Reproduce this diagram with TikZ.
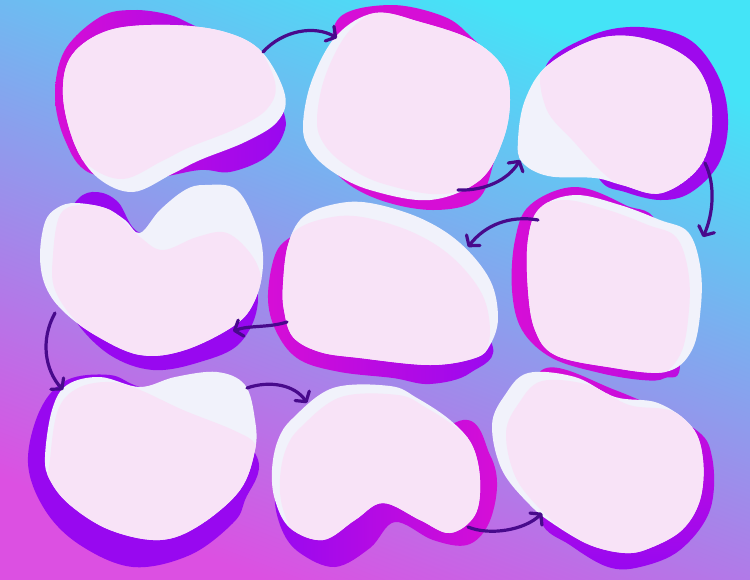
\documentclass[tikz,border=0pt]{standalone}
\usetikzlibrary{arrows.meta}
\definecolor{bgcyan}{RGB}{68,228,247}
\definecolor{bgmid}{RGB}{140,165,232}
\definecolor{bgmag}{RGB}{220,80,226}
\definecolor{shmag}{RGB}{214,14,214}
\definecolor{shvio}{RGB}{152,8,240}
\definecolor{blobwhite}{RGB}{241,242,251}
\definecolor{blobpink}{RGB}{248,227,247}
\definecolor{arrowc}{RGB}{72,10,140}
\tikzset{
  mainblob/.style={fill=blobwhite},
  pinkblob/.style={fill=blobpink},
  conn/.style={draw=arrowc, line width=3.2pt, line cap=round,
    -{Straight Barb[length=7pt,width=17pt,round]}},
  bl/.style={smooth cycle, tension=0.6}
}
\begin{document}
\begin{tikzpicture}[x=1pt,y=-1pt]
\useasboundingbox (0,0) rectangle (750,579);
\shade[top color=bgcyan, middle color=bgmid, bottom color=bgmag, shading angle=-21] (0,0) rectangle (750,579);

% ---------- Blob 1 ----------
\shade[left color=shmag, right color=shvio] plot[bl] coordinates {(55,95) (65,50) (100,17) (133,10) (170,15) (200,28) (255,48) (283,110) (283,135) (265,158) (230,172) (200,170) (150,178) (90,173) (65,140)};
\path[mainblob] plot[bl] coordinates {(63,95) (72,55) (110,30) (170,25) (225,32) (262,52) (285,95) (277,122) (245,142) (200,160) (172,174) (133,192) (98,178) (75,145)};
\begin{scope}
\clip plot[bl] coordinates {(63,95) (72,55) (110,30) (170,25) (225,32) (262,52) (285,95) (277,122) (245,142) (200,160) (172,174) (133,192) (98,178) (75,145)};
\path[pinkblob, shift={(-10,-13)}] plot[bl] coordinates {(63,95) (72,55) (110,30) (170,25) (225,32) (262,52) (285,95) (277,122) (245,142) (200,160) (172,174) (133,192) (98,178) (75,145)};
\end{scope}

% ---------- Blob 2 ----------
\fill[shmag] plot[bl] coordinates {(330,60) (340,17) (390,5) (440,15) (467,33) (495,70) (495,140) (493,165) (477,200) (433,210) (380,200) (340,177) (320,140)};
\path[mainblob] plot[bl] coordinates {(303,125) (312,80) (337,35) (375,13) (420,22) (472,40) (503,67) (510,100) (503,140) (480,180) (430,200) (370,190) (333,172) (310,150)};
\begin{scope}
\clip plot[bl] coordinates {(303,125) (312,80) (337,35) (375,13) (420,22) (472,40) (503,67) (510,100) (503,140) (480,180) (430,200) (370,190) (333,172) (310,150)};
\path[pinkblob, shift={(14,-6)}] plot[bl] coordinates {(303,125) (312,80) (337,35) (375,13) (420,22) (472,40) (503,67) (505,100) (498,140) (480,180) (430,200) (370,190) (333,172) (310,150)};
\end{scope}

% ---------- Blob 3 ----------
\fill[shvio!90!shmag] plot[bl] coordinates {(545,70) (590,36) (640,27) (690,40) (720,80) (728,125) (718,165) (690,193) (660,200) (625,192) (600,180) (580,130)};
\path[mainblob] plot[bl] coordinates {(518,140) (525,100) (548,65) (600,38) (650,40) (695,65) (712,110) (702,163) (662,193) (622,185) (595,178) (548,176) (522,162)};
\begin{scope}
\clip plot[bl] coordinates {(518,140) (525,100) (548,65) (600,38) (650,40) (695,65) (712,110) (702,163) (662,193) (622,185) (595,178) (548,176) (522,162)};
\path[pinkblob] plot[bl] coordinates {(545,62) (600,36) (650,38) (695,62) (712,110) (702,163) (662,193) (622,185) (602,172) (575,143) (546,108)};
\end{scope}

% ---------- Blob 4 ----------
\shade[left color=shvio, middle color=shmag, right color=shvio] plot[bl] coordinates {(62,230) (78,199) (97,192) (118,202) (140,233) (190,230) (245,240) (258,300) (240,343) (200,362) (153,370) (110,355) (75,320) (60,280)};
\path[mainblob] plot[bl] coordinates {(40,255) (45,222) (57,208) (75,203) (105,208) (125,220) (140,233) (160,210) (185,190) (205,185) (237,190) (258,230) (263,265) (255,300) (235,325) (185,350) (140,355) (95,335) (62,310) (45,285)};
\begin{scope}
\clip plot[bl] coordinates {(40,255) (45,222) (57,208) (75,203) (105,208) (125,220) (140,233) (160,210) (185,190) (205,185) (237,190) (258,230) (263,265) (255,300) (235,325) (185,350) (140,355) (95,335) (62,310) (45,285)};
\path[pinkblob] plot[bl] coordinates {(53,255) (60,215) (80,205) (110,210) (140,237) (163,250) (197,237) (227,233) (253,257) (262,285) (255,310) (230,335) (170,355) (120,350) (80,325) (55,290)};
\end{scope}

% ---------- Blob 5 ----------
\shade[left color=shmag, right color=shvio] plot[bl] coordinates {(268,300) (275,255) (292,236) (320,222) (400,250) (490,340) (470,373) (430,384) (393,378) (340,372) (300,360) (278,335)};
\path[mainblob] plot[bl] coordinates {(283,285) (288,245) (303,217) (335,204) (370,203) (420,218) (460,243) (490,280) (498,318) (490,345) (475,358) (430,365) (360,358) (320,352) (293,337) (284,310)};
\begin{scope}
\clip plot[bl] coordinates {(283,285) (288,245) (303,217) (335,204) (370,203) (420,218) (460,243) (490,280) (498,318) (490,345) (475,358) (430,365) (360,358) (320,352) (293,337) (284,310)};
\path[pinkblob, shift={(-8,14)}] plot[bl] coordinates {(283,285) (288,245) (303,217) (335,204) (370,203) (420,218) (460,243) (490,280) (498,318) (490,345) (475,358) (430,365) (360,358) (320,352) (293,337) (284,310)};
\end{scope}

% ---------- Blob 6 ----------
\shade[left color=shmag, right color=shmag!60!shvio] plot[bl] coordinates {(512,290) (515,240) (530,205) (575,187) (625,205) (660,230) (680,360) (665,378) (642,380) (600,373) (552,358) (522,330)};
\path[mainblob] plot[bl] coordinates {(528,240) (540,208) (575,195) (620,205) (660,220) (688,232) (700,265) (701,305) (692,350) (665,372) (608,367) (555,355) (535,330) (528,290)};
\begin{scope}
\clip plot[bl] coordinates {(528,240) (540,208) (575,195) (620,205) (660,220) (688,232) (700,265) (701,305) (692,350) (665,372) (608,367) (555,355) (535,330) (528,290)};
\path[pinkblob, shift={(-12,5)}] plot[bl] coordinates {(528,240) (540,208) (575,195) (620,205) (660,220) (688,232) (700,265) (701,305) (692,350) (665,372) (608,367) (555,355) (535,330) (528,290)};
\end{scope}

% ---------- Blob 7 ----------
\fill[shvio] plot[bl] coordinates {(28,463) (40,410) (67,380) (110,375) (140,387) (200,400) (257,457) (245,500) (233,523) (190,555) (133,567) (80,545) (45,510)};
\path[mainblob] plot[bl] coordinates {(45,457) (52,410) (67,385) (100,377) (140,387) (175,377) (217,372) (245,385) (255,420) (255,450) (240,490) (200,525) (160,540) (110,530) (70,505) (50,480)};
\begin{scope}
\clip plot[bl] coordinates {(45,457) (52,410) (67,385) (100,377) (140,387) (175,377) (217,372) (245,385) (255,420) (255,450) (240,490) (200,525) (160,540) (110,530) (70,505) (50,480)};
\path[pinkblob] plot[bl] coordinates {(50,460) (58,410) (78,388) (110,382) (140,390) (183,410) (233,430) (256,445) (255,470) (236,497) (160,545) (83,517) (50,490)};
\end{scope}

% ---------- Blob 8 ----------
\shade[left color=shvio, right color=shmag] plot[bl] coordinates {(275,495) (290,470) (380,470) (463,420) (490,455) (497,487) (488,525) (467,545) (433,540) (395,522) (370,548) (335,567) (300,553) (282,530)};
\path[mainblob] plot[bl] coordinates {(272,470) (278,440) (293,418) (333,388) (390,386) (417,398) (450,420) (472,445) (480,480) (475,515) (450,533) (420,520) (383,503) (355,520) (323,540) (290,528) (275,500)};
\begin{scope}
\clip plot[bl] coordinates {(272,470) (278,440) (293,418) (333,388) (390,386) (417,398) (450,420) (472,445) (480,480) (475,515) (450,533) (420,520) (383,503) (355,520) (323,540) (290,528) (275,500)};
\path[pinkblob, shift={(8,9)}] plot[bl] coordinates {(272,470) (278,440) (293,418) (333,388) (390,386) (417,398) (450,420) (472,445) (480,480) (475,515) (450,533) (420,520) (383,503) (355,520) (323,540) (290,528) (275,500)};
\end{scope}

% ---------- Blob 9 ----------
\shade[top color=shmag, bottom color=shvio] plot[bl] coordinates {(542,370) (615,390) (692,427) (712,457) (710,510) (680,550) (640,567) (608,567) (570,545) (540,520) (530,450)};
\path[mainblob] plot[bl] coordinates {(492,425) (505,395) (528,373) (575,377) (615,397) (658,403) (692,427) (703,460) (700,500) (682,530) (650,548) (625,553) (590,545) (555,525) (530,505) (502,470)};
\begin{scope}
\clip plot[bl] coordinates {(492,425) (505,395) (528,373) (575,377) (615,397) (658,403) (692,427) (703,460) (700,500) (682,530) (650,548) (625,553) (590,545) (555,525) (530,505) (502,470)};
\path[pinkblob, shift={(14,8)}] plot[bl] coordinates {(492,425) (505,395) (528,373) (575,377) (615,397) (658,403) (692,427) (703,460) (700,500) (682,530) (650,548) (625,553) (590,545) (555,525) (530,505) (502,470)};
\end{scope}

% ---------- connectors ----------
\coordinate (a1s) at (263,52);  \coordinate (a1e) at (337,38);
\coordinate (a2s) at (458,190); \coordinate (a2e) at (520,160);
\coordinate (a3s) at (705,163); \coordinate (a3e) at (703,237);
\coordinate (a4s) at (538,220); \coordinate (a4e) at (468,247);
\coordinate (a5s) at (287,322); \coordinate (a5e) at (233,331);
\coordinate (a6s) at (55,313);  \coordinate (a6e) at (63,390);
\coordinate (a7s) at (247,388); \coordinate (a7e) at (307,403);
\coordinate (a8s) at (468,527); \coordinate (a8e) at (542,513);
\draw[conn] (a1s) .. controls (283,30) and (315,25) .. (a1e);
\draw[conn] (a2s) .. controls (485,191) and (508,180) .. (a2e);
\draw[conn] (a3s) .. controls (716,185) and (713,215) .. (a3e);
\draw[conn] (a4s) .. controls (510,215) and (485,225) .. (a4e);
\draw[conn] (a5s) .. controls (268,328) and (250,325) .. (a5e);
\draw[conn] (a6s) .. controls (40,340) and (45,370) .. (a6e);
\draw[conn] (a7s) .. controls (270,380) and (295,385) .. (a7e);
\draw[conn] (a8s) .. controls (490,536) and (525,530) .. (a8e);
\end{tikzpicture}
\end{document}
